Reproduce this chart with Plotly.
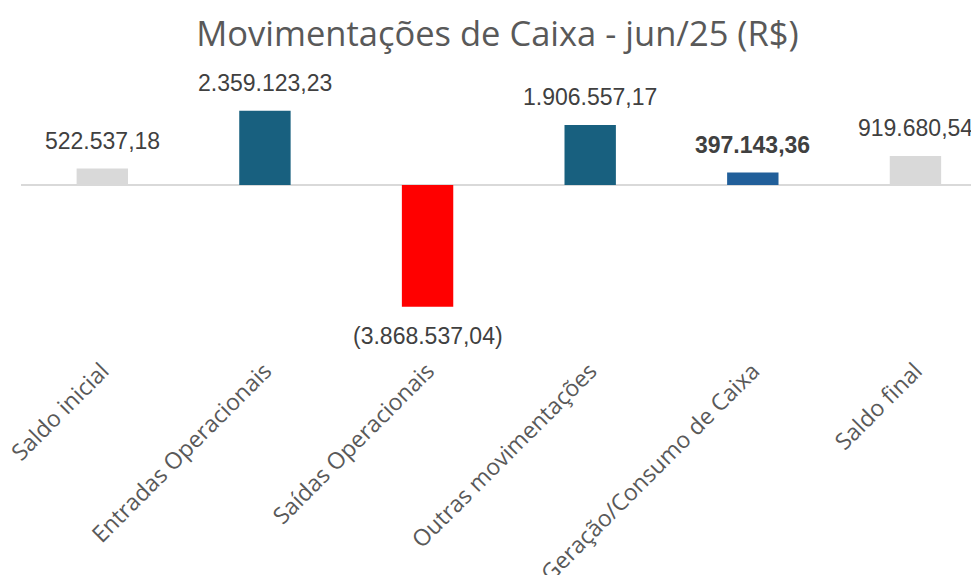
import plotly.graph_objects as go

categories = ["Saldo inicial", "Entradas Operacionais", "Saídas Operacionais",
              "Outras movimentações", "Geração/Consumo de Caixa", "Saldo final"]
values = [522537.18, 2359123.23, -3868537.04, 1906557.17, 397143.36, 919680.54]
colors = ["#D9D9D9", "#18607F", "#FF0000", "#18607F", "#215F9A", "#D9D9D9"]
bold = [False, False, False, False, True, False]


def fmt_br(v):
    s = f"{abs(v):,.2f}".replace(",", "X").replace(".", ",").replace("X", ".")
    return f"({s})" if v < 0 else s


fig = go.Figure()
fig.add_trace(go.Bar(
    x=categories, y=values, marker=dict(color=colors, line=dict(width=0)),
    width=0.316, hoverinfo="skip",
))

for c, v, b in zip(categories, values, bold):
    t = fmt_br(v)
    fig.add_annotation(
        x=c, y=v, text=f"<b>{t}</b>" if b else t, showarrow=False,
        yshift=28 if v >= 0 else -29, yanchor="middle",
        font=dict(family="Liberation Sans, Arial, sans-serif", size=23, color="#404040"),
    )

fig.update_layout(
    width=979, height=575,
    margin=dict(l=13, r=0, t=68, b=231, autoexpand=False),
    paper_bgcolor="white", plot_bgcolor="white",
    showlegend=False,
    title=dict(text="Movimentações de Caixa - jun/25 (R$)", x=0.5, xanchor="center",
               y=0.955, yanchor="middle",
               font=dict(family="Open Sans, Noto Sans, sans-serif", size=34.5, color="#595959")),
    xaxis=dict(range=[-0.5, 5.44], showgrid=False, zeroline=False, showline=False,
               tickangle=-45, ticks="", automargin=False,
               tickfont=dict(family="Open Sans, Noto Sans, sans-serif", size=23, color="#595959")),
    yaxis=dict(range=[-5.31e6, 3.466e6], showgrid=False, showticklabels=False, automargin=False,
               zeroline=True, zerolinecolor="#D9D9D9", zerolinewidth=2, showline=False),
)

fig.write_html("out.html")
